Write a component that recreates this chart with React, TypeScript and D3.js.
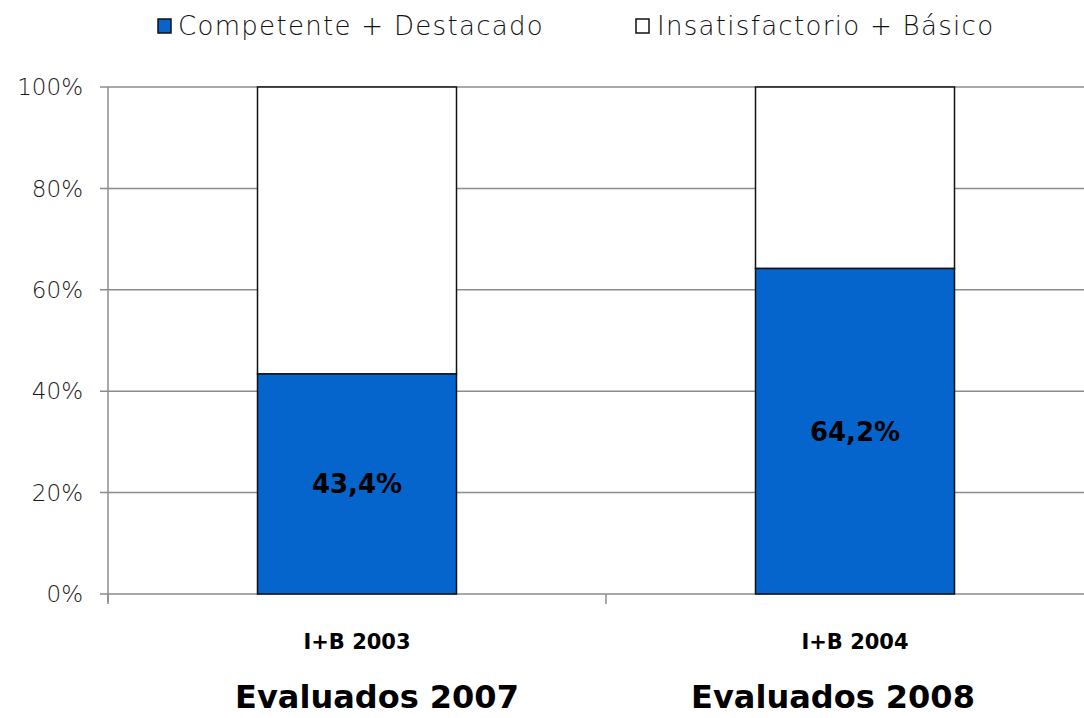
import React from "react";
import * as d3 from "d3";

const categories = ["I+B 2003", "I+B 2004"];
const groupLabels = ["Evaluados 2007", "Evaluados 2008"];
const competente = [43.4, 64.2];
const insatisfactorio = [56.6, 35.8];
const yTicks = [0, 20, 40, 60, 80, 100];
const seriesNames = ["Competente + Destacado", "Insatisfactorio + Básico"];
const seriesColors = ["#0565CC", "#FFFFFF"];

const W = 1084;
const H = 718;
const left = 108;
const catW = 498;
const top = 87;
const bottom = 594;

export default function App() {
  const x = d3.scaleBand<string>().domain(categories).range([left, left + catW * 2]).paddingInner(0).paddingOuter(0);
  const y = d3.scaleLinear().domain([0, 100]).range([bottom, top]);
  const barW = 199;
  const font = "'DejaVu Sans', sans-serif";
  const groupX = [377, 833];
  const legendX = [158, 636];
  const legendTextX = [178, 657];

  return (
    <svg width={W} height={H} style={{ position: "absolute", left: 0, top: 0, background: "#fff" }}>
      {yTicks.map((t) => (
        <line key={"g" + t} x1={left - 8} x2={W} y1={y(t)} y2={y(t)} stroke="#8c8c8c" strokeWidth={1.5} />
      ))}
      <line x1={left} x2={left} y1={top} y2={bottom + 8} stroke="#8c8c8c" strokeWidth={1.5} />
      {[left, left + catW].map((v, i) => (
        <line key={"ct" + i} x1={v} x2={v} y1={bottom} y2={bottom + 10} stroke="#8c8c8c" strokeWidth={1.5} />
      ))}
      {yTicks.map((t) => (
        <text key={"yl" + t} x={83} y={y(t)} dy="0.36em" textAnchor="end" fontFamily={font} fontSize={23} fill="#1a1a1a" style={{ fontWeight: 300 }}>
          {t}%
        </text>
      ))}
      {categories.map((c, i) => {
        const cx = (x(c) as number) + x.bandwidth() / 2;
        const x0 = cx - barW / 2;
        return (
          <g key={c}>
            <rect x={x0} y={y(100)} width={barW} height={y(competente[i]) - y(100)} fill={seriesColors[1]} stroke="#111" strokeWidth={1.5} />
            <rect x={x0} y={y(competente[i])} width={barW} height={y(0) - y(competente[i])} fill={seriesColors[0]} stroke="#111" strokeWidth={1.5} />
            <text x={cx} y={(y(competente[i]) + y(0)) / 2} dy="0.36em" textAnchor="middle" fontFamily={font} fontWeight="bold" fontSize={26} fill="#000">
              {competente[i].toFixed(1).replace(".", ",")}%
            </text>
            <text x={cx} y={641} dy="0.36em" textAnchor="middle" fontFamily={font} fontWeight="bold" fontSize={21} fill="#000">
              {c}
            </text>
            <text x={groupX[i]} y={696} dy="0.36em" textAnchor="middle" fontFamily={font} fontWeight="bold" fontSize={32} fill="#000">
              {groupLabels[i]}
            </text>
          </g>
        );
      })}
      {seriesNames.map((s, i) => (
        <g key={s}>
          <rect x={legendX[i]} y={19} width={13} height={14} fill={seriesColors[i]} stroke="#111" strokeWidth={1.5} />
          <text x={legendTextX[i]} y={26} dy="0.36em" fontFamily={font} fontSize={26} letterSpacing={1.3} fill="#111" style={{ fontWeight: 300 }}>
            {s}
          </text>
        </g>
      ))}
    </svg>
  );
}
